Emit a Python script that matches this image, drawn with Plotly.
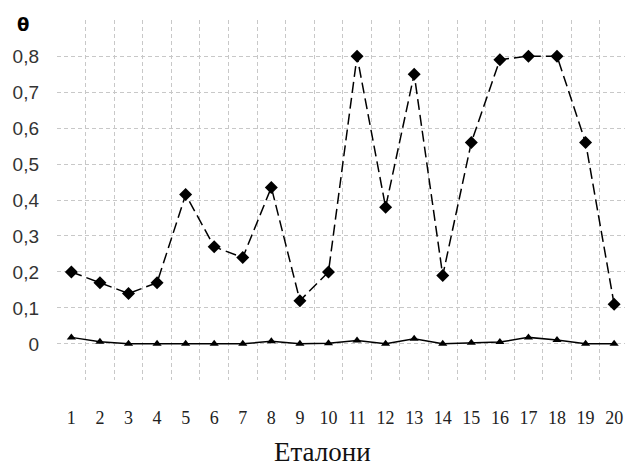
import plotly.graph_objects as go

categories = list(range(1, 21))
series_diamond = [0.20, 0.17, 0.14, 0.17, 0.415, 0.27, 0.24, 0.435, 0.12, 0.20,
                  0.80, 0.38, 0.75, 0.19, 0.56, 0.79, 0.80, 0.80, 0.56, 0.11]
series_triangle = [0.018, 0.006, 0.0, 0.0, 0.0, 0.0, 0.0, 0.007, 0.0, 0.002,
                   0.009, 0.0, 0.014, 0.0, 0.003, 0.005, 0.018, 0.011, 0.0, 0.0]
y_tickvals = [-0.1, 0, 0.1, 0.2, 0.3, 0.4, 0.5, 0.6, 0.7, 0.8, 0.9]
y_ticktext = ["", "0", "0,1", "0,2", "0,3", "0,4", "0,5", "0,6", "0,7", "0,8", ""]
x_boundaries = [c - 0.5 for c in categories] + [20.5]

fig = go.Figure()
fig.add_trace(go.Scatter(
    x=categories, y=series_diamond, mode="lines+markers",
    line=dict(color="black", width=1.5, dash="11px,5px"),
    marker=dict(symbol="diamond", size=10, color="black"),
    showlegend=False))
fig.add_trace(go.Scatter(
    x=categories, y=series_triangle, mode="lines+markers",
    line=dict(color="black", width=1.5),
    marker=dict(symbol="triangle-up", size=8, color="black"),
    showlegend=False))

fig.update_layout(
    width=625, height=467,
    margin=dict(l=57, r=0, t=20, b=87),
    plot_bgcolor="white", paper_bgcolor="white",
    xaxis=dict(
        range=[0.497, 20.38], tickvals=categories,
        ticktext=[str(c) for c in categories],
        showgrid=False, zeroline=False, showline=False,
        ticks="", ticklabelstandoff=25,
        tickfont=dict(family="Liberation Serif", size=18, color="#222"),
        minor=dict(tickvals=x_boundaries, showgrid=True, gridcolor="#c8c8c8",
                   griddash="4px,3px", gridwidth=1, ticks=""),
    ),
    yaxis=dict(
        range=[-0.1005, 0.9005], tickvals=y_tickvals, ticktext=y_ticktext,
        showgrid=True, gridcolor="#c8c8c8", griddash="4px,3px", gridwidth=1,
        zeroline=False, showline=False, ticks="", ticklabelstandoff=17,
        tickfont=dict(family="Liberation Sans", size=19, color="#333"),
    ),
    annotations=[
        dict(text="<b>θ</b>", xref="paper", yref="paper", x=-34 / 568,
             y=1.0 - 5 / 360, xanchor="center", yanchor="middle", showarrow=False,
             font=dict(family="DejaVu Sans", size=18, color="black")),
        dict(text="Еталони", xref="paper", yref="paper", x=(322.5 - 57) / 568,
             y=-(452 - 380) / 360, xanchor="center", yanchor="middle", showarrow=False,
             font=dict(family="Liberation Serif", size=27, color="#111")),
    ],
)

fig.write_html("out.html", config={"displayModeBar": False},
               post_script="document.body.style.margin='0';document.body.style.overflow='hidden';")
